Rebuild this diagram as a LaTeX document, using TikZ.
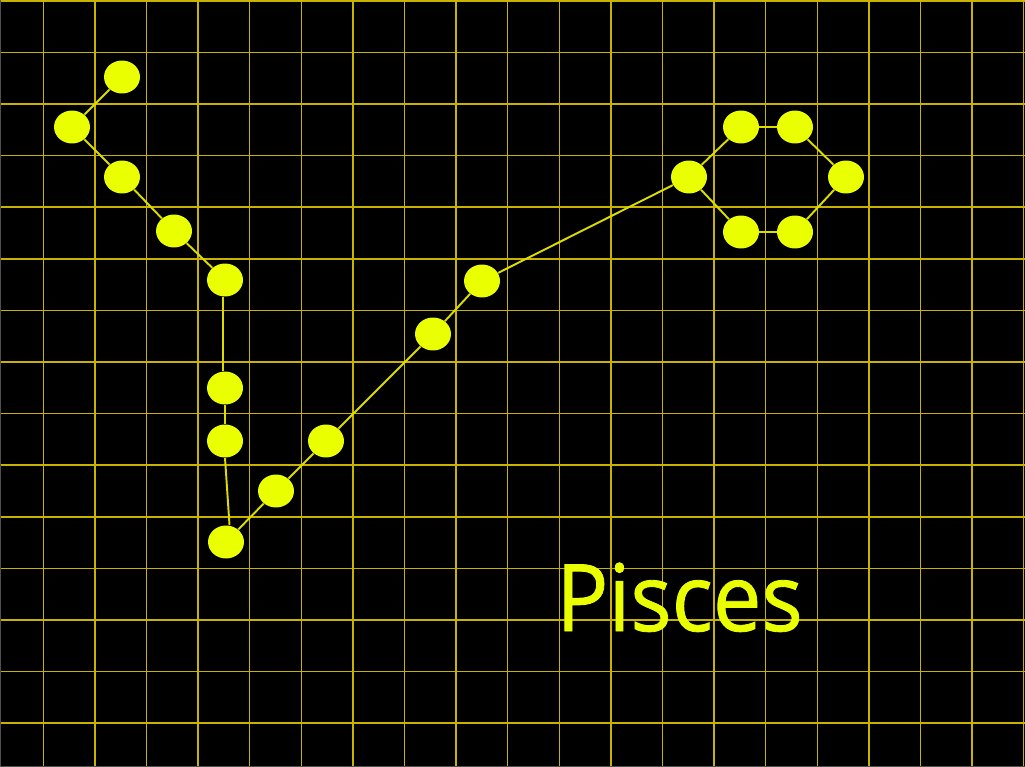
\documentclass[tikz,border=0pt]{standalone}
\usepackage{fontspec}
\setmainfont{Open Sans}
\newfontfamily\labelfont[FakeBold=0.9]{Open Sans}
\usepackage{tikz}
\usetikzlibrary{shapes.geometric}
\definecolor{skybg}{HTML}{000000}
\definecolor{gridgold}{HTML}{C8B400}
\definecolor{starfill}{HTML}{EAFF00}
\definecolor{linkcol}{HTML}{DCDC00}
\definecolor{framegray}{HTML}{505050}

\begin{document}
\begin{tikzpicture}[
    x=0.02cm, y=-0.02cm,
    star/.style={ellipse, fill=starfill, draw=none, minimum width=0.72cm, minimum height=0.66cm, inner sep=0pt},
    link/.style={linkcol, line width=1.1pt},
    gridline/.style={gridgold, line width=0.85pt},
  ]
  \fill[skybg] (0,0) rectangle (1025,767);
  \useasboundingbox (0,0) rectangle (1025,767);

  % Grid
  \foreach \gx in {0,...,19}
    \draw[gridline] (43.3+51.6*\gx,0) -- (43.3+51.6*\gx,767);
  \foreach \gy in {0,...,14}
    \draw[gridline] (0,0.8+51.6*\gy) -- (1025,0.8+51.6*\gy);
  \draw[framegray, line width=0.8pt] (0.5,0) -- (0.5,766.5) -- (1025,766.5);

  % Stars
  \node[star] (tail) at (122,77) {};
  \node[star] (tw) at (72,127) {};
  \node[star] (ta) at (122,177) {};
  \node[star] (tb) at (174,231) {};
  \node[star] (tc) at (225,280) {};
  \node[star] (td) at (225,388) {};
  \node[star] (te) at (225,441) {};
  \node[star] (knot) at (226,542) {};
  \node[star] (ra) at (276,491) {};
  \node[star] (rb) at (326,441) {};
  \node[star] (rc) at (433,334) {};
  \node[star] (rd) at (482,281) {};
  \node[star] (fw) at (689,177) {};
  \node[star] (fnw) at (741,127) {};
  \node[star] (fne) at (795,127) {};
  \node[star] (fe) at (846,177) {};
  \node[star] (fse) at (795,232) {};
  \node[star] (fsw) at (741,232) {};

  % Links
  \draw[link] (tail) -- (tw);
  \draw[link] (tw) -- (ta);
  \draw[link] (ta) -- (tb);
  \draw[link] (tb) -- (tc);
  \draw[link] ([xshift=-1pt]tc.south) -- ([xshift=-1pt]td.north);
  \draw[link] (td) -- (te);
  \draw[link] (te.south) -- ([xshift=2pt]knot.north);
  \draw[link] (knot) -- (ra);
  \draw[link] (ra) -- (rb);
  \draw[link] (rb) -- (rc);
  \draw[link] (rc) -- (rd);
  \draw[link] (rd) -- (fw);
  \draw[link] (fw) -- (fnw);
  \draw[link] (fnw) -- (fne);
  \draw[link] (fne) -- (fe);
  \draw[link] (fe) -- (fse);
  \draw[link] (fse) -- (fsw);
  \draw[link] (fsw) -- (fw);

  % Label
  \node[anchor=base west, inner sep=0pt, xscale=0.93, text=starfill, font=\labelfont\fontsize{53}{60}\selectfont] (name) at (556,631) {Pisces};
\end{tikzpicture}
\end{document}
